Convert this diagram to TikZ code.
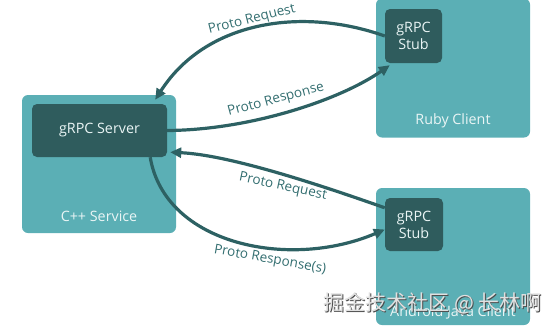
\documentclass[tikz,border=0pt]{standalone}
\usepackage{fontspec}
\setmainfont{Open Sans}
\newfontfamily\cjkfont{Noto Sans CJK SC}
\usetikzlibrary{arrows.meta}
\definecolor{lightteal}{HTML}{5BAFB5}
\definecolor{darkteal}{HTML}{2F5C5D}
\definecolor{arrowteal}{HTML}{2D6163}
\definecolor{labelteal}{HTML}{336E70}
\definecolor{boxtext}{HTML}{EAF5F5}
\tikzset{
  outerbox/.style={draw=none, fill=lightteal, rounded corners=6pt, inner sep=0pt},
  innerbox/.style={draw=none, fill=darkteal, rounded corners=5pt, inner sep=0pt,
    text=boxtext, font=\fontsize{14.3}{17}\selectfont, align=center},
  boxlabel/.style={text=boxtext, font=\fontsize{14.3}{17}\selectfont, inner sep=0pt},
  flow/.style={draw=arrowteal, line width=3.2pt, -{Triangle[length=11pt,width=10pt]}},
  flowlabel/.style={text=labelteal, font=\fontsize{13.5}{15}\selectfont, inner sep=0pt},
}
\begin{document}
\begin{tikzpicture}[x=1pt,y=-1pt]
\useasboundingbox (0,0) rectangle (552,327);
% boxes
\node[outerbox, minimum width=154pt, minimum height=138pt] (cpp) at (99,164) {};
\node[innerbox, minimum width=135pt, minimum height=53pt] (server) at (99.5,130.5) {gRPC Server};
\node[boxlabel] (cpplabel) at (99,216) {C++ Service};

\node[outerbox, minimum width=154pt, minimum height=139pt] (ruby) at (453,68) {};
\node[innerbox, minimum width=57pt, minimum height=54pt] (rstub) at (413.5,36) {gRPC\\Stub};
\node[boxlabel] (rubylabel) at (453,121) {Ruby Client};

\node[outerbox, minimum width=154pt, minimum height=137pt] (android) at (453,256.5) {};
\node[innerbox, minimum width=58pt, minimum height=53pt] (astub) at (414,224.5) {gRPC\\Stub};
\node[boxlabel] (androidlabel) at (453,312) {Android Java Client};

% connectors
\draw[flow] (rstub.west) .. controls (300,6) and (205,22) .. ([xshift=-12pt,yshift=4pt]server.north east);
\draw[flow] (server.east) .. controls (250,130) and (340,100) .. ([xshift=5pt,yshift=-2pt]rstub.south west);
\draw[flow] ([yshift=-10pt]astub.north west) .. controls (320,185) and (230,155) .. ([xshift=3pt,yshift=5pt]server.south east);
\draw[flow] ([xshift=-17pt]server.south east) .. controls (165,245) and (290,270) .. ([yshift=-5pt]astub.west);

% labels
\node[flowlabel, rotate=14] (l1) at (252,20) {Proto Request};
\node[flowlabel, rotate=15] (l2) at (276,100) {Proto Response};
\node[flowlabel, rotate=-12] (l3) at (283,187) {Proto Request};
\node[flowlabel, rotate=-10] (l4) at (270,260) {Proto Response(s)};

% watermark
\node[text=black!70, font=\cjkfont\fontsize{21}{23}\selectfont, inner sep=0pt] (wms) at (433.8,304.8) {掘金技术社区 @ 长林啊};
\node[text=black!12, font=\cjkfont\fontsize{21}{23}\selectfont, inner sep=0pt] (wm) at (432.5,303.5) {掘金技术社区 @ 长林啊};
\end{tikzpicture}
\end{document}
